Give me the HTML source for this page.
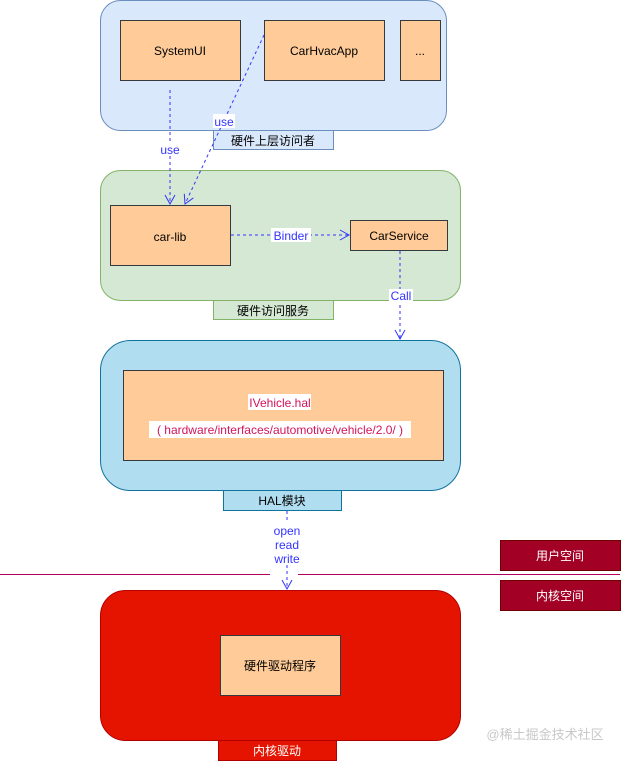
<!DOCTYPE html>
<html><head><meta charset="utf-8"><style>
body{margin:0;width:622px;height:762px;background:#fff;overflow:hidden}
svg text{font-family:"Liberation Sans","Noto Sans CJK SC",sans-serif;font-size:12px}
</style></head><body>
<svg width="622" height="762" viewBox="0 0 622 762" xmlns="http://www.w3.org/2000/svg">
<defs><marker id="a" markerWidth="12" markerHeight="12" refX="10" refY="6" orient="auto" markerUnits="userSpaceOnUse"><path d="M1,1 L10,6 L1,11" fill="none" stroke="#3333ff" stroke-width="1"/></marker></defs>
<!-- blue top -->
<rect x="100.5" y="0.5" width="346" height="130" rx="20" fill="#dae8fc" stroke="#6c8ebf"/>
<rect x="120.5" y="20.5" width="120" height="60" fill="#ffcc99" stroke="#36393d"/>
<text x="180" y="55" text-anchor="middle">SystemUI</text>
<rect x="264.5" y="20.5" width="120" height="60" fill="#ffcc99" stroke="#36393d"/>
<text x="324" y="55" text-anchor="middle">CarHvacApp</text>
<rect x="400.5" y="20.5" width="40" height="60" fill="#ffcc99" stroke="#36393d"/>
<text x="420" y="55" text-anchor="middle">...</text>
<rect x="213.5" y="130.5" width="120" height="19" fill="#dae8fc" stroke="#6c8ebf"/>
<text x="273" y="145" text-anchor="middle">硬件上层访问者</text>
<!-- green -->
<rect x="100.5" y="170.5" width="360" height="130" rx="20" fill="#d5e8d4" stroke="#82b366"/>
<rect x="110.5" y="205.5" width="120" height="60" fill="#ffcc99" stroke="#36393d"/>
<text x="170" y="241" text-anchor="middle">car-lib</text>
<rect x="350.5" y="220.5" width="97" height="30" fill="#ffcc99" stroke="#36393d"/>
<text x="399" y="240" text-anchor="middle">CarService</text>
<rect x="213.5" y="300.5" width="120" height="19" fill="#d5e8d4" stroke="#82b366"/>
<text x="273" y="315" text-anchor="middle">硬件访问服务</text>
<!-- HAL -->
<rect x="100.5" y="340.5" width="360" height="150" rx="30" fill="#b1ddf0" stroke="#10739e"/>
<rect x="123.5" y="370.5" width="320" height="90" fill="#ffcc99" stroke="#36393d"/>
<rect x="248" y="394" width="63" height="16" fill="#fff"/>
<text x="280" y="407" text-anchor="middle" fill="#d4145a">IVehicle.hal</text>
<rect x="149" y="421" width="262" height="17" fill="#fff"/>
<text x="280" y="434" text-anchor="middle" fill="#d4145a">( hardware/interfaces/automotive/vehicle/2.0/ )</text>
<rect x="223.5" y="490.5" width="118" height="20" fill="#b1ddf0" stroke="#10739e"/>
<text x="282" y="505" text-anchor="middle">HAL模块</text>
<!-- divider -->
<line x1="0" y1="574.5" x2="270" y2="574.5" stroke="#b0005a"/>
<line x1="298" y1="574.5" x2="620" y2="574.5" stroke="#b0005a"/>
<rect x="500.5" y="540.5" width="120" height="30" fill="#a20025" stroke="#6f0000"/>
<text x="560" y="560" text-anchor="middle" fill="#fff">用户空间</text>
<rect x="500.5" y="580.5" width="120" height="30" fill="#a20025" stroke="#6f0000"/>
<text x="560" y="600" text-anchor="middle" fill="#fff">内核空间</text>
<!-- kernel -->
<rect x="100.5" y="590.5" width="360" height="150" rx="25" fill="#e51400" stroke="#b20000"/>
<rect x="220.5" y="635.5" width="120" height="60" fill="#ffcc99" stroke="#36393d"/>
<text x="280" y="670" text-anchor="middle">硬件驱动程序</text>
<rect x="218.5" y="740.5" width="118" height="20" fill="#e51400" stroke="#b20000"/>
<text x="277" y="755" text-anchor="middle" fill="#fff">内核驱动</text>
<text x="545" y="739" text-anchor="middle" fill="#c8c8c8" style="font-size:13px">@稀土掘金技术社区</text>
<!-- arrows -->
<g stroke="#3333ff" stroke-dasharray="3,3" fill="none">
<line x1="170" y1="90" x2="170" y2="204" marker-end="url(#a)"/>
<line x1="264" y1="35" x2="185" y2="204" marker-end="url(#a)"/>
<line x1="231" y1="235" x2="349" y2="235" marker-end="url(#a)"/>
<line x1="400" y1="251" x2="400" y2="339" marker-end="url(#a)"/>
<line x1="287" y1="511" x2="287" y2="589" marker-end="url(#a)"/>
</g>
<g fill="#3333ff">
<rect x="159" y="142" width="22" height="14" fill="#fff"/><text x="170" y="154" text-anchor="middle" fill="#3333ff">use</text>
<rect x="213" y="114" width="22" height="14" fill="#fff"/><text x="224" y="126" text-anchor="middle" fill="#3333ff">use</text>
<rect x="271" y="228" width="40" height="14" fill="#fff"/><text x="291" y="240" text-anchor="middle" fill="#3333ff">Binder</text>
<rect x="389" y="289" width="24" height="14" fill="#fff"/><text x="401" y="300" text-anchor="middle" fill="#3333ff">Call</text>
<rect x="270" y="523" width="34" height="42" fill="#fff"/>
<text x="287" y="535" text-anchor="middle" fill="#3333ff">open</text>
<text x="287" y="549" text-anchor="middle" fill="#3333ff">read</text>
<text x="287" y="563" text-anchor="middle" fill="#3333ff">write</text>
</g>
</svg>
</body></html>
